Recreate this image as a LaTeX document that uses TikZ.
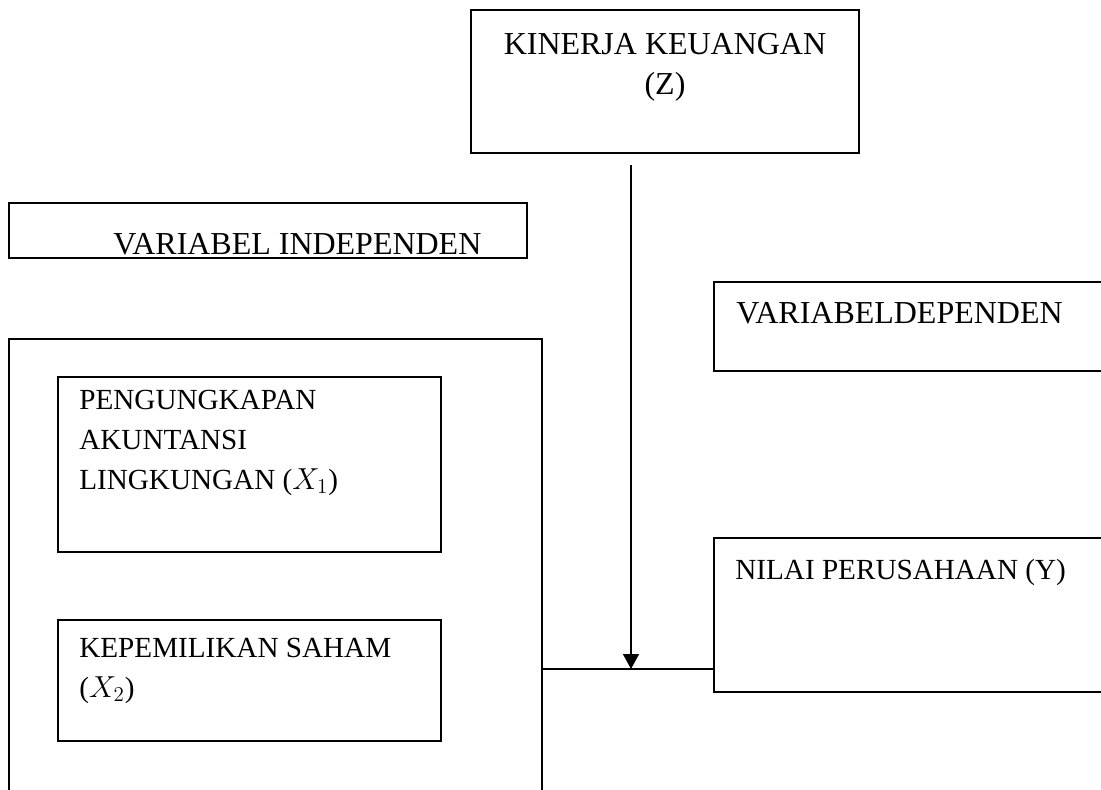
\documentclass[tikz,border=0pt]{standalone}
\usepackage{fontspec}
\setmainfont{Liberation Serif}
\usetikzlibrary{arrows.meta,fit}

\begin{document}
\begin{tikzpicture}[x=0.02cm,y=-0.02cm,>={Triangle[width=9pt,length=8.5pt]}]
		\tikzstyle{box}=[rectangle, draw=black, line width=1.1pt, inner sep=0pt]
		\tikzstyle{head}=[inner sep=0pt, anchor=base west, font=\fontsize{18.2}{22.5}\selectfont]
		\tikzstyle{txt}=[inner sep=0pt, anchor=base west, align=left, font=\fontsize{16.6}{22.5}\selectfont]

		\useasboundingbox (0,0) rectangle (1101,789);
		\clip (0,0) rectangle (1101,789);

		% boxes
		\node [box, fit={(471,10) (859,153)}] (kinerja) {};
		\node [box, fit={(9,203) (527,258)}] (indep) {};
		\node [box, fit={(9,339) (542,800)}] (outer) {};
		\node [box, fit={(58,377) (441,552)}] (x1) {};
		\node [box, fit={(58,620) (441,741)}] (x2) {};
		\node [box, fit={(714,282) (1120,371)}] (dep) {};
		\node [box, fit={(714,538) (1120,692)}] (nilai) {};

		% texts (base = last line)
		\node [head, anchor=base, align=center] (tz) at (665,94) {KINERJA KEUANGAN\\(Z)};
		\node [head] (tindep) at (113,254) {VARIABEL INDEPENDEN};
		\node [head] (tdep) at (736,323) {VARIABELDEPENDEN};
		\node [txt] (tx1) at (79,489) {PENGUNGKAPAN\\AKUNTANSI\\LINGKUNGAN ($X_1$)};
		\node [txt] (tx2) at (79,697) {KEPEMILIKAN SAHAM\\($X_2$)};
		\node [txt] (ty) at (735,579) {NILAI PERUSAHAAN (Y)};

		% connectors
		\coordinate (join) at (631,669);
		\coordinate (zstart) at (631,165);
		\draw [line width=1.1pt] (outer.east |- join) -- (nilai.west |- join);
		\draw [line width=1.1pt, ->] (zstart) -- (join);
	\end{tikzpicture}
\end{document}
